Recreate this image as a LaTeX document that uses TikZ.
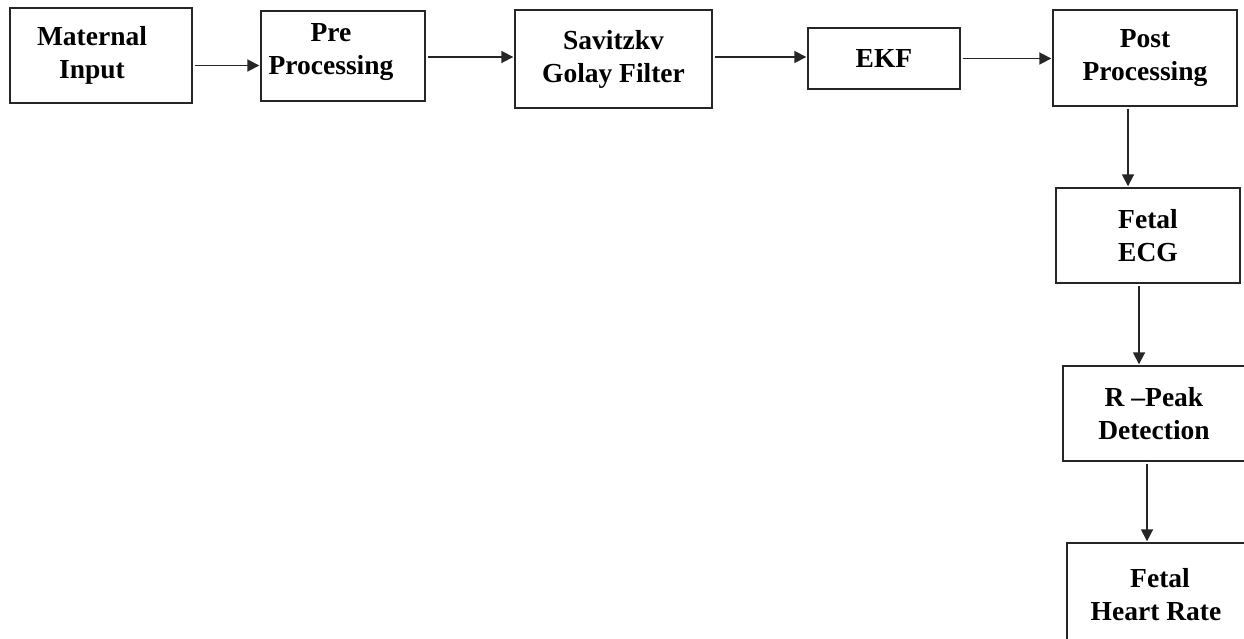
\documentclass[tikz,border=0pt]{standalone}
\usepackage{fontspec}
\setmainfont{Liberation Serif}
\usetikzlibrary{arrows.meta}
\begin{document}
\begin{tikzpicture}[x=1pt,y=-1pt,
  box/.style={draw=black!85, line width=1.4pt, inner sep=0pt, align=center,
    font=\fontsize{27.5}{33}\selectfont\bfseries},
  flow/.style={draw=black!85, line width=1.8pt, -{Triangle[length=12pt,width=12pt]}, shorten <=2pt, shorten >=1pt}]
\useasboundingbox (0,0) rectangle (1244,639);
\clip (0,0) rectangle (1244,639);
% boxes (positioned by centre; sizes from the reference)
\node[box, minimum width=182pt, minimum height=95pt] (mat) at (101,55.5) {\begin{tabular}{@{}c@{}}Maternal\\Input\end{tabular}\hspace*{18pt}};
\node[box, minimum width=164pt, minimum height=90pt] (pre) at (343,56) {\raisebox{-2pt}[0pt][0pt]{\begin{tabular}{@{}c@{}}Pre\\Processing\end{tabular}}\hspace*{24pt}};
\node[box, minimum width=197pt, minimum height=98pt] (sg) at (613.5,59) {Savitzkv\\Golay Filter};
\node[box, minimum width=152pt, minimum height=61pt] (ekf) at (884,58.5) {EKF};
\node[box, minimum width=184pt, minimum height=96pt] (post) at (1145,58) {Post\\Processing};
\node[box, minimum width=184pt, minimum height=95pt] (fecg) at (1148,235.5) {Fetal\\ECG};
\node[box, minimum width=182pt, minimum height=95pt] (rpk) at (1154,413.5) {R –Peak\\Detection};
\node[box, minimum width=186pt, minimum height=104pt] (fhr) at (1160,595) {Fetal\\Heart Rate\hspace*{8pt}};
% connectors
\draw[flow] ([yshift=-10pt]mat.east) -- ([yshift=-10pt]mat.east -| pre.west);
\draw[flow] ([yshift=-1pt]pre.east) -- ([yshift=-1pt]pre.east -| sg.west);
\draw[flow] ([yshift=2pt]sg.east) -- ([yshift=2pt]sg.east -| ekf.west);
\draw[flow] (ekf.east) -- (ekf.east -| post.west);
\draw[flow] ([xshift=-17pt]post.south) -- ([xshift=-17pt]post.south |- fecg.north);
\draw[flow] ([xshift=-9pt]fecg.south) -- ([xshift=-9pt]fecg.south |- rpk.north);
\draw[flow] ([xshift=-7pt]rpk.south) -- ([xshift=-7pt]rpk.south |- fhr.north);
\end{tikzpicture}
\end{document}
